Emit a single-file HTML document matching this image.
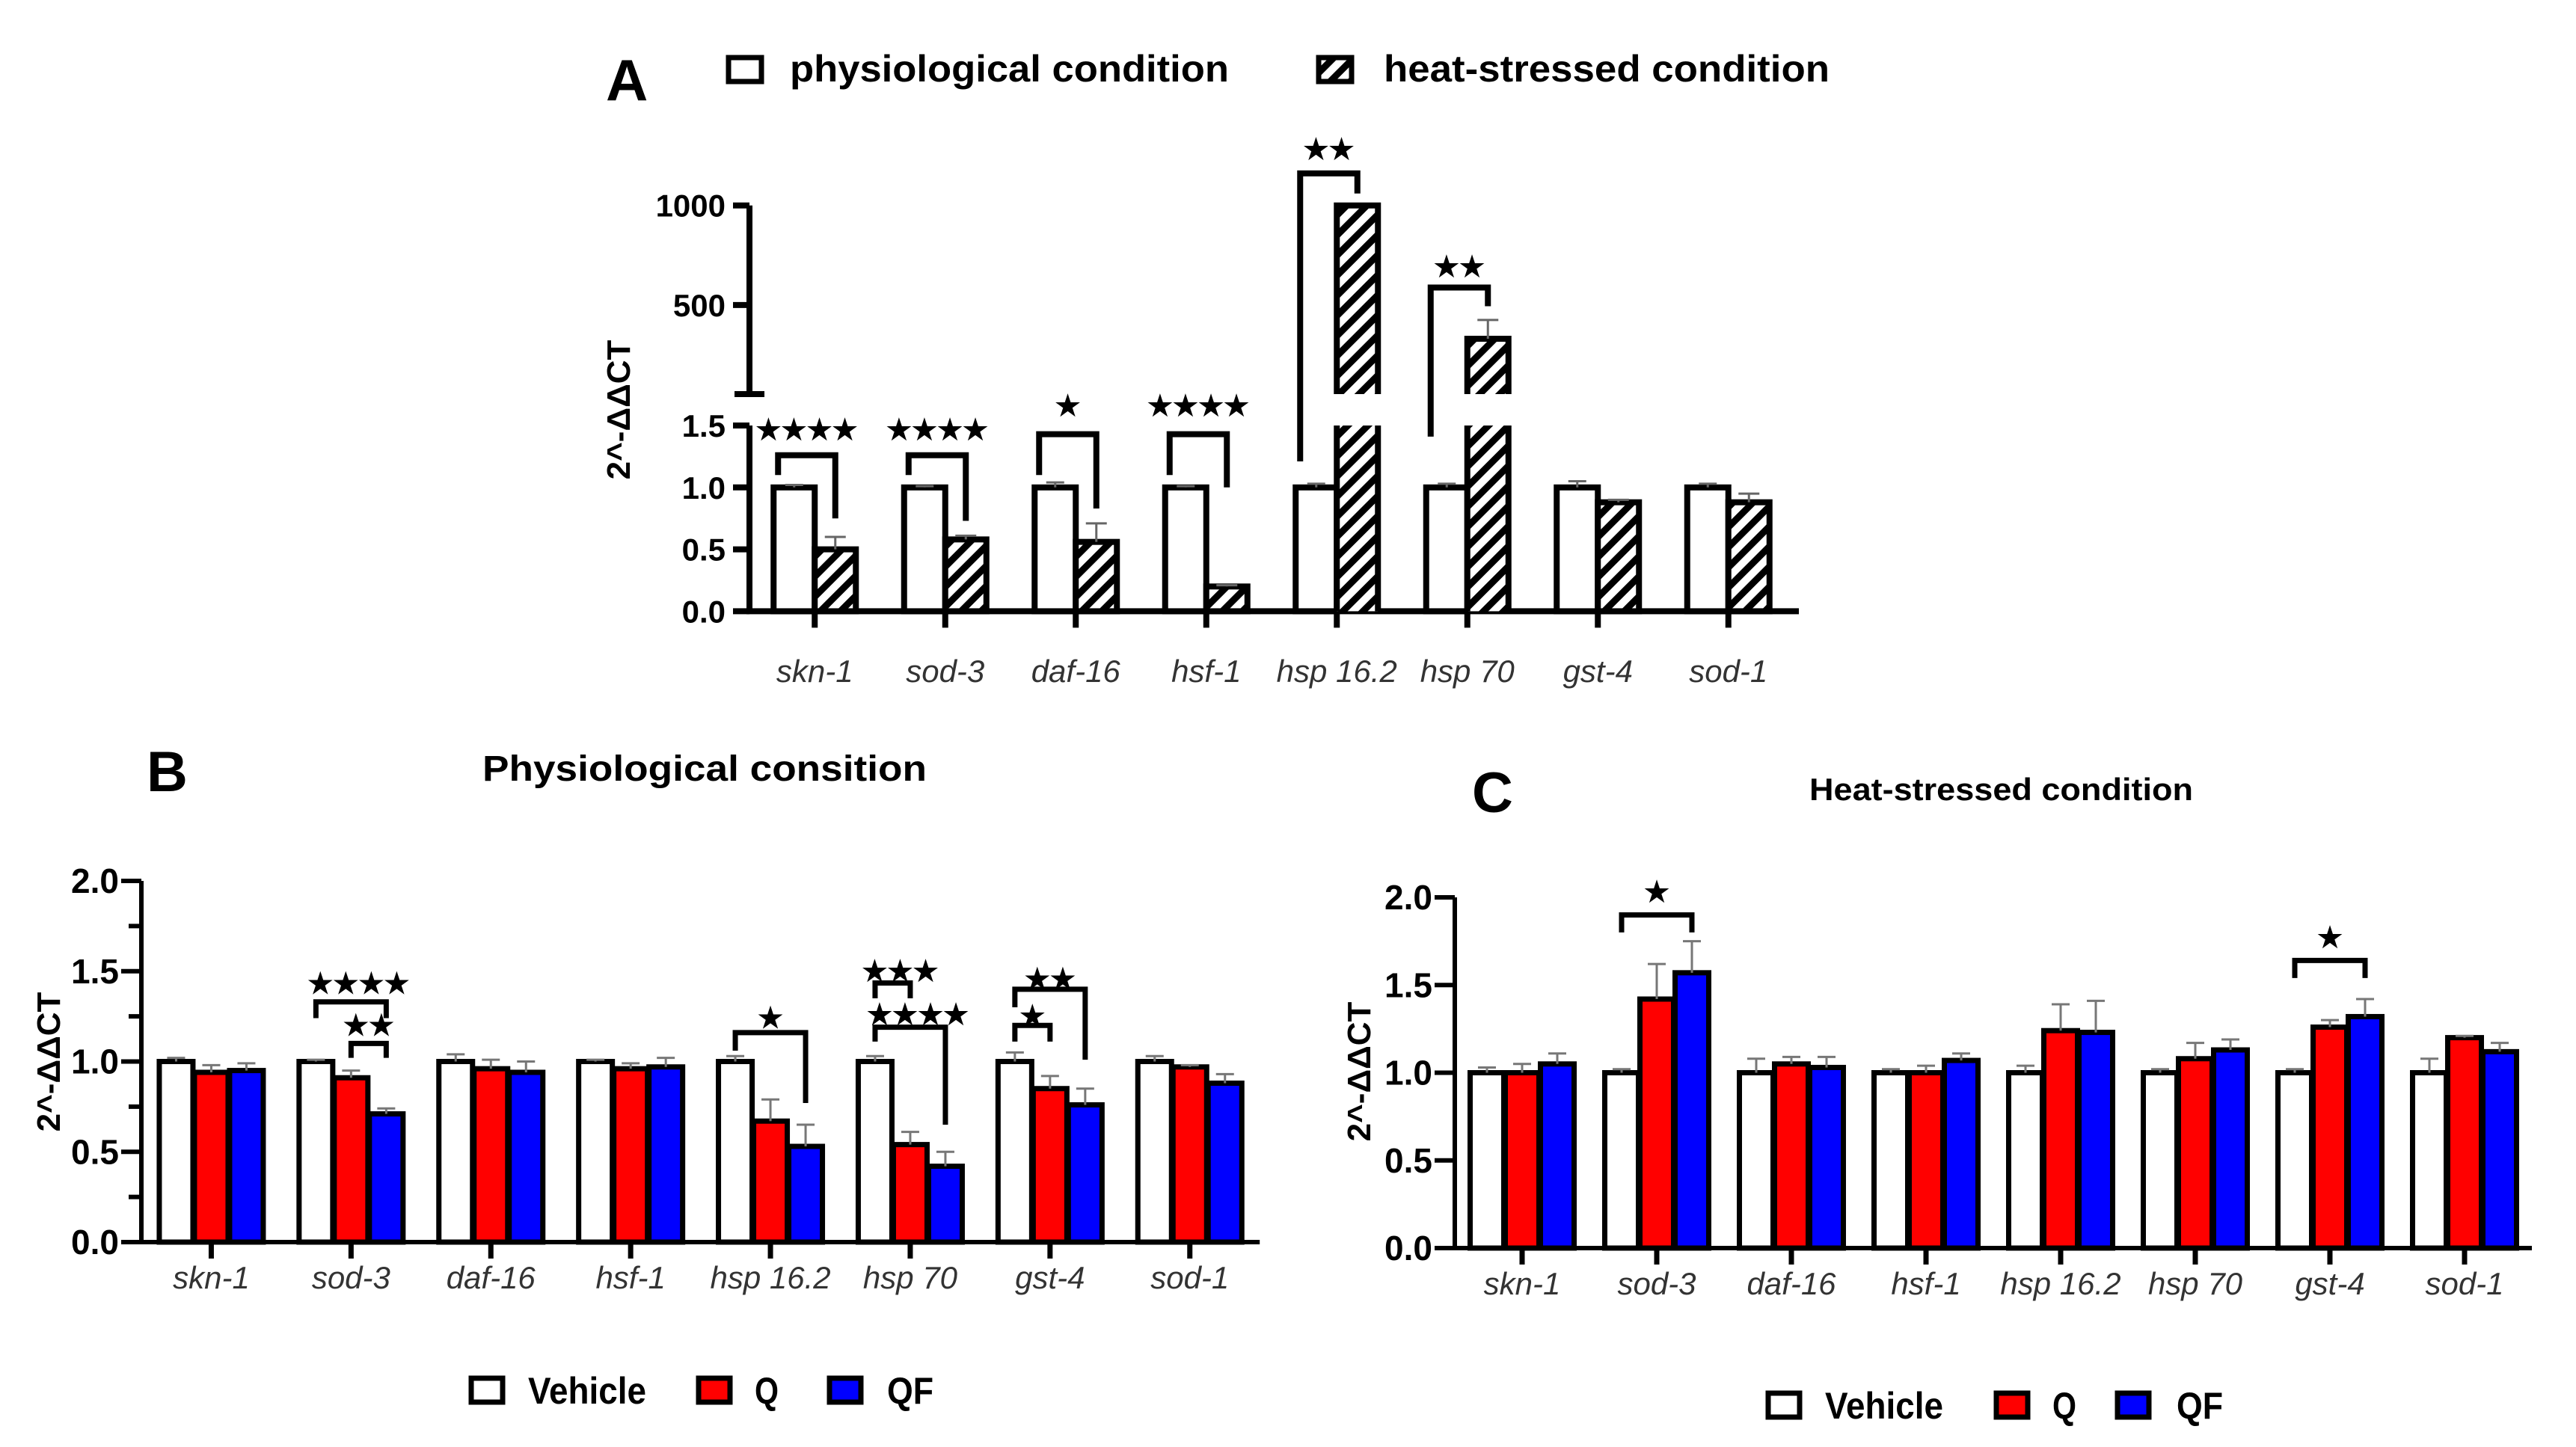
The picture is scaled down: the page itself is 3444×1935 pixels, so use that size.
<!DOCTYPE html>
<html><head><meta charset="utf-8"><style>
html,body{margin:0;padding:0;background:#fff;}
svg{display:block;}
text{font-family:"Liberation Sans",Arial,sans-serif;}
</style></head>
<body>
<svg id="fig" xmlns="http://www.w3.org/2000/svg" width="3444" height="1935" viewBox="0 0 3444 1935">
<defs>
<pattern id="hatch" patternUnits="userSpaceOnUse" width="19" height="19" patternTransform="rotate(45)">
<rect x="0" y="0" width="19" height="19" fill="#fff"/>
<rect x="0" y="0" width="9" height="19" fill="#000"/>
</pattern>
</defs>
<g id="panelA"></g>
<g id="panelB"></g>
<g id="panelC"></g>
</svg>
<script>
// ---------- data ----------
const genes = ["skn-1","sod-3","daf-16","hsf-1","hsp 16.2","hsp 70","gst-4","sod-1"];
// Panel A
const aPhys = [1,1,1,1,1,1,1,1];
const aPhysErr = [0.02,0.01,0.04,0.01,0.03,0.03,0.05,0.03];
const aHeat = [0.5,0.58,0.56,0.2,1000,331,0.88,0.88];
const aHeatErr = [0.1,0.03,0.15,0.01,0,94,0.02,0.07];
const aLowTicks = [0,0.5,1,1.5];
const aLowTickLabels = ["0.0","0.5","1.0","1.5"];
const aUpTicks = [500,1000];
const aUpTickLabels = ["500","1000"];
const aBrCat = [0,1,2,3,4,5];
const aBrTop = [1.26,1.26,1.43,1.43,1161,588];
const aBrL = [1.10,1.10,1.10,1.10,1.21,1.41];
const aBrR = [0.75,0.73,0.83,1.0,1060,494];
const aBrLabel = ["****","****","*","****","**","**"];
const aBrStar = [1.48,1.48,1.57,1.53,1290,700];
// Panel B
const bVeh = [1,1,1,1,1,1,1,1];
const bVehErr = [0.02,0.01,0.04,0.01,0.03,0.03,0.05,0.03];
const bQ = [0.94,0.91,0.96,0.96,0.67,0.54,0.85,0.97];
const bQErr = [0.04,0.04,0.05,0.03,0.12,0.07,0.07,0.01];
const bQF = [0.95,0.71,0.94,0.97,0.53,0.42,0.76,0.88];
const bQFErr = [0.04,0.03,0.06,0.05,0.12,0.08,0.09,0.05];
const bBrCat = [1,1,4,5,5,6,6];
const bBrS1 = [0,1,0,0,0,0,0];
const bBrS2 = [2,2,2,1,2,2,1];
const bBrTop = [1.33,1.10,1.16,1.435,1.19,1.40,1.20];
const bBrL = [1.24,1.02,1.06,1.35,1.11,1.30,1.11];
const bBrR = [1.24,1.02,0.77,1.35,0.65,1.01,1.11];
const bBrLabel = ["****","**","*","***","****","**","*"];
const bBrStar = [1.44,1.21,1.25,1.51,1.27,1.466,1.26];
// Panel C
const cVeh = [1,1,1,1,1,1,1,1];
const cVehErr = [0.03,0.02,0.08,0.02,0.04,0.02,0.02,0.08];
const cQ = [1.0,1.42,1.05,1.0,1.24,1.08,1.26,1.2];
const cQErr = [0.05,0.2,0.04,0.04,0.15,0.09,0.04,0.01];
const cQF = [1.05,1.57,1.03,1.07,1.23,1.13,1.32,1.12];
const cQFErr = [0.06,0.18,0.06,0.04,0.18,0.06,0.1,0.05];
const cBrCat = [1,6];
const cBrS1 = [0,0];
const cBrS2 = [2,2];
const cBrTop = [1.90,1.64];
const cBrL = [1.80,1.54];
const cBrR = [1.80,1.54];
const cBrLabel = ["*","*"];
const cBrStar = [2.04,1.78];
const bcTicks = [0,0.5,1,1.5,2];
const bcTickLabels = ["0.0","0.5","1.0","1.5","2.0"];
const bMinor = [0.25,0.75,1.25,1.75];

// ---------- helpers ----------
const NS = "http://www.w3.org/2000/svg";
function mk(parent, tag, attrs, txt){
  const e = document.createElementNS(NS, tag);
  for (const k in attrs) e.setAttribute(k, attrs[k]);
  if (txt !== undefined) e.textContent = txt;
  parent.appendChild(e);
  return e;
}
const narrow = '"Liberation Sans Narrow","Liberation Sans",Arial,sans-serif';
const STAR_SIZE = 38;

// ---------- Panel A ----------
(function(){
  const g = document.getElementById('panelA');
  const X0 = 1002, BAND = 174.5, XEND = 2405;
  const Y0 = 817.4, PU = 165.6, UPB = 53, UPBY = 527, UPK = 133.2/500;
  const yA = v => v <= 1.5 ? Y0 - v*PU : UPBY - (v-UPB)*UPK;
  const xc = i => X0 + (i+0.5)*BAND;
  const BW = 55;

  let t = mk(g,'text',{x:810,y:134,'font-size':78,'font-weight':'bold'},'A');
   
  let r = mk(g,'rect',{x:974,y:77,width:44,height:32,fill:'#fff',stroke:'#000','stroke-width':7});
   
  t = mk(g,'text',{x:1056,y:109,'font-size':50,'font-weight':'bold',textLength:587,lengthAdjust:'spacingAndGlyphs','font-family':narrow},'physiological condition');
   
  r = mk(g,'rect',{x:1763,y:77,width:44,height:32,fill:'url(#hatch)',stroke:'#000','stroke-width':7});
   
  t = mk(g,'text',{x:1850,y:109,'font-size':50,'font-weight':'bold',textLength:596,lengthAdjust:'spacingAndGlyphs','font-family':narrow},'heat-stressed condition');
   

  let p = mk(g,'path',{d:`M${X0} ${yA(1000)} V${UPBY} M${X0-20} ${UPBY} H${X0+20}`,stroke:'#000','stroke-width':8,fill:'none'});
   
  p = mk(g,'path',{d:`M${X0} ${yA(1.5)} V${Y0} M${X0-4} ${Y0} H${XEND}`,stroke:'#000','stroke-width':8,fill:'none'});
   
  aLowTicks.forEach((v,i)=>{
    const l = mk(g,'line',{x1:X0-22,x2:X0,y1:yA(v),y2:yA(v),stroke:'#000','stroke-width':8});
     
    const tl = mk(g,'text',{x:X0-32,y:yA(v)+15,'font-size':42,'font-weight':'bold','text-anchor':'end'},aLowTickLabels[i]);
     
  });
  aUpTicks.forEach((v,i)=>{
    const l = mk(g,'line',{x1:X0-22,x2:X0,y1:yA(v),y2:yA(v),stroke:'#000','stroke-width':8});
     
    const tl = mk(g,'text',{x:X0-32,y:yA(v)+15,'font-size':42,'font-weight':'bold','text-anchor':'end'},aUpTickLabels[i]);
     
  });
  t = mk(g,'text',{x:0,y:0,'font-size':44,'font-weight':'bold','text-anchor':'middle',transform:`translate(842 548) rotate(-90)`},'2^-ΔΔCT');
   

  genes.forEach((gname,i)=>{
    const c = xc(i);
    const tk = mk(g,'line',{x1:c,x2:c,y1:Y0,y2:Y0+22,stroke:'#000','stroke-width':8});
     
    const lb = mk(g,'text',{x:c,y:912,'font-size':42,'font-style':'italic','text-anchor':'middle',fill:'#333'},gname);
     
    const b1 = mk(g,'rect',{x:c-BW,y:yA(aPhys[i]),width:BW,height:Y0-yA(aPhys[i]),fill:'#fff',stroke:'#000','stroke-width':8});
     
    const e1 = mk(g,'path',{d:`M${c-BW/2} ${yA(aPhys[i])} V${yA(aPhys[i]+aPhysErr[i])} M${c-BW/2-12} ${yA(aPhys[i]+aPhysErr[i])} H${c-BW/2+12}`,stroke:'#666','stroke-width':3,fill:'none'});
     
    const v = aHeat[i];
    if (v <= 1.5){
      const b2 = mk(g,'rect',{x:c,y:yA(v),width:BW,height:Y0-yA(v),fill:'url(#hatch)',stroke:'#000','stroke-width':8});
       
    } else {
      const lo = mk(g,'rect',{x:c,y:yA(1.5),width:BW,height:Y0-yA(1.5),fill:'url(#hatch)'});
       
      const lob = mk(g,'path',{d:`M${c} ${yA(1.5)} V${Y0} M${c+BW} ${yA(1.5)} V${Y0}`,stroke:'#000','stroke-width':8,fill:'none'});
       
      const up = mk(g,'rect',{x:c,y:yA(v),width:BW,height:UPBY-yA(v),fill:'url(#hatch)'});
       
      const upb = mk(g,'path',{d:`M${c} ${UPBY} V${yA(v)} H${c+BW} V${UPBY}`,stroke:'#000','stroke-width':8,fill:'none'});
       
    }
    if (aHeatErr[i] > 0){
      const e2 = mk(g,'path',{d:`M${c+BW/2} ${yA(v)} V${yA(v+aHeatErr[i])} M${c+BW/2-14} ${yA(v+aHeatErr[i])} H${c+BW/2+14}`,stroke:'#666','stroke-width':3,fill:'none'});
       
    }
  });
  aBrCat.forEach((ci,k)=>{
    const c = xc(ci), xl = c-BW+6, xr = c+BW/2;
    const br = mk(g,'path',{d:`M${xl} ${yA(aBrL[k])} V${yA(aBrTop[k])} H${xr} V${yA(aBrR[k])}`,stroke:'#000','stroke-width':8,fill:'none'});
     
    const st = mk(g,'text',{x:(xl+xr)/2,y:yA(aBrStar[k])+15,'font-size':STAR_SIZE,'font-weight':'bold','text-anchor':'middle','font-family':'"DejaVu Sans",sans-serif'},aBrLabel[k].replace(/\*/g,'★'));
     
  });
})();

// ---------- Panels B & C ----------
function grouped(gid, cfg){
  const g = document.getElementById(gid);
  const {X0,BAND,Y0,PU} = cfg;
  const XEND = X0 + 8*BAND;
  const y = v => Y0 - v*PU;
  const xc = i => X0 + (i+0.5)*BAND;
  const SLOT = 47, BW = 45;
  let t = mk(g,'text',{x:cfg.letterX,y:cfg.letterY,'font-size':76,'font-weight':'bold'},cfg.letter);
   
  t = mk(g,'text',{x:cfg.titleX,y:cfg.titleY,'font-size':cfg.titleSize,'font-weight':'bold',textLength:cfg.titleW,lengthAdjust:'spacingAndGlyphs','font-family':narrow},cfg.title);
   
  let p = mk(g,'path',{d:`M${X0} ${y(2)} V${Y0} H${XEND}`,stroke:'#000','stroke-width':6,fill:'none'});
   
  bcTicks.forEach((v,i)=>{
    const l = mk(g,'line',{x1:X0-27,x2:X0,y1:y(v),y2:y(v),stroke:'#000','stroke-width':6});
     
    const tl = mk(g,'text',{x:X0-30,y:y(v)+16,'font-size':46,'font-weight':'bold','text-anchor':'end','font-family':narrow},bcTickLabels[i]);
     
  });
  if (cfg.minor) cfg.minor.forEach(v=>{
    const l = mk(g,'line',{x1:X0-17,x2:X0,y1:y(v),y2:y(v),stroke:'#000','stroke-width':6});
     
  });
  t = mk(g,'text',{x:0,y:0,'font-size':44,'font-weight':'bold','text-anchor':'middle',transform:`translate(${cfg.ytX} ${cfg.ytY}) rotate(-90)`},'2^-ΔΔCT');
   
  const series = [[cfg.veh,cfg.vehErr,'#fff','vehicle'],[cfg.q,cfg.qErr,'#ff0000','q'],[cfg.qf,cfg.qfErr,'#0000ff','qf']];
  genes.forEach((gname,i)=>{
    const c = xc(i);
    const tk = mk(g,'line',{x1:c,x2:c,y1:Y0,y2:Y0+22,stroke:'#000','stroke-width':7});
     
    const lb = mk(g,'text',{x:c,y:Y0+62,'font-size':42,'font-style':'italic','text-anchor':'middle',fill:'#333','font-family':narrow},gname);
     
    series.forEach((s,j)=>{
      const bc = c + (j-1)*SLOT, v = s[0][i], e = s[1][i];
      const b = mk(g,'rect',{x:bc-BW/2,y:y(v),width:BW,height:Y0-y(v),fill:s[2],stroke:'#000','stroke-width':7});
       
      const eb = mk(g,'path',{d:`M${bc} ${y(v)} V${y(v+e)} M${bc-12} ${y(v+e)} H${bc+12}`,stroke:'#777','stroke-width':3,fill:'none'});
       
    });
  });
  cfg.brCat.forEach((ci,k)=>{
    const xl = xc(ci)+(cfg.brS1[k]-1)*SLOT, xr = xc(ci)+(cfg.brS2[k]-1)*SLOT;
    const br = mk(g,'path',{d:`M${xl} ${y(cfg.brL[k])} V${y(cfg.brTop[k])} H${xr} V${y(cfg.brR[k])}`,stroke:'#000','stroke-width':7,fill:'none'});
     
    const st = mk(g,'text',{x:(xl+xr)/2+(cfg.brLabel[k].length>2?10:0),y:y(cfg.brStar[k])+15,'font-size':STAR_SIZE,'font-weight':'bold','text-anchor':'middle','font-family':'"DejaVu Sans",sans-serif'},cfg.brLabel[k].replace(/\*/g,'★'));
     
  });
  const L = cfg.leg;
  const sw = [['#fff','Vehicle',L.x0,L.t0,158],['#ff0000','Q',L.x1,L.t1,32],['#0000ff','QF',L.x2,L.t2,62]];
  sw.forEach(s=>{
    const r = mk(g,'rect',{x:s[2],y:L.y,width:42,height:32,fill:s[0],stroke:'#000','stroke-width':7});
     
    const tt = mk(g,'text',{x:s[3],y:L.y+34,'font-size':50,'font-weight':'bold',textLength:s[4],lengthAdjust:'spacingAndGlyphs','font-family':narrow},s[1]);
     
  });
}
grouped('panelB',{X0:189,BAND:186.9,Y0:1661,PU:241.5,minor:bMinor,veh:bVeh,vehErr:bVehErr,q:bQ,qErr:bQErr,qf:bQF,qfErr:bQFErr,
  brCat:bBrCat,brS1:bBrS1,brS2:bBrS2,brTop:bBrTop,brL:bBrL,brR:bBrR,brLabel:bBrLabel,brStar:bBrStar,
  letter:'B',letterX:196,letterY:1058,title:'Physiological consition',titleX:645,titleY:1044,titleW:594,titleSize:48,
  ytX:80,ytY:1420,leg:{y:1843,x0:630,t0:706,x1:934,t1:1009,x2:1109,t2:1186}});
grouped('panelC',{X0:1945,BAND:180,Y0:1669,PU:234.5,minor:null,veh:cVeh,vehErr:cVehErr,q:cQ,qErr:cQErr,qf:cQF,qfErr:cQFErr,
  brCat:cBrCat,brS1:cBrS1,brS2:cBrS2,brTop:cBrTop,brL:cBrL,brR:cBrR,brLabel:cBrLabel,brStar:cBrStar,
  letter:'C',letterX:1968,letterY:1086,title:'Heat-stressed condition',titleX:2419,titleY:1070,titleW:513,titleSize:42,
  ytX:1832,ytY:1433,leg:{y:1863,x0:2364,t0:2440,x1:2669,t1:2744,x2:2831,t2:2910}});
</script>
</body></html>
